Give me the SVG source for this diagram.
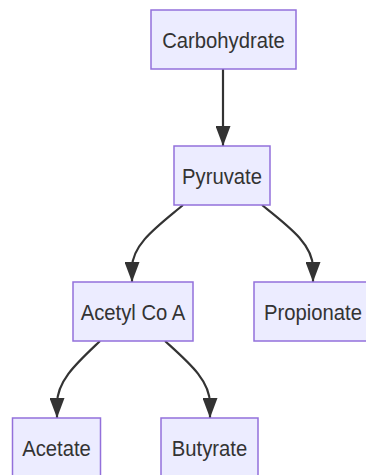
<svg xmlns="http://www.w3.org/2000/svg" width="366" height="475" viewBox="0 0 366 475">
<style>
.node rect{fill:#ECECFF;stroke:#9370DB;stroke-width:1.5}
.node text{font-family:"Liberation Sans",Arial,sans-serif;font-size:22.5px;fill:#333;text-anchor:middle}
.edge{fill:none;stroke:#333;stroke-width:2.2}
</style>
<defs>
<marker id="arrow" viewBox="0 0 20 15" refX="20" refY="7.5" markerWidth="20" markerHeight="15" markerUnits="userSpaceOnUse" orient="auto">
<path d="M0,0 L20,7.5 L0,15 z" fill="#333"/>
</marker>
</defs>
<g id="edges">
<path class="edge" d="M223,69 L223,146" marker-end="url(#arrow)"/>
<path class="edge" d="M183,205 C158,226 132,244 132,268 L132,282" marker-end="url(#arrow)"/>
<path class="edge" d="M262,205 C288,226 313,244 313,268 L313,282" marker-end="url(#arrow)"/>
<path class="edge" d="M100,341 C78,362 57,380 57,404 L57,418" marker-end="url(#arrow)"/>
<path class="edge" d="M165,341 C188,362 210,380 210,404 L210,418" marker-end="url(#arrow)"/>
</g>
<g id="carbohydrate" class="node"><rect x="151" y="10" width="145" height="59"/><text transform="translate(223.5,47.5) scale(0.9,1)">Carbohydrate</text></g>
<g id="pyruvate" class="node"><rect x="174" y="146" width="96" height="59"/><text transform="translate(222,183.5) scale(0.9,1)">Pyruvate</text></g>
<g id="acetylcoa" class="node"><rect x="73" y="282" width="120" height="59"/><text transform="translate(133,319.5) scale(0.9,1)">Acetyl Co A</text></g>
<g id="propionate" class="node"><rect x="254" y="282" width="118" height="59"/><text transform="translate(313,319.5) scale(0.9,1)">Propionate</text></g>
<g id="acetate" class="node"><rect x="12.5" y="418" width="88" height="59"/><text transform="translate(56.5,456) scale(0.9,1)">Acetate</text></g>
<g id="butyrate" class="node"><rect x="161" y="418" width="97" height="59"/><text transform="translate(209.5,456) scale(0.9,1)">Butyrate</text></g>
</svg>
